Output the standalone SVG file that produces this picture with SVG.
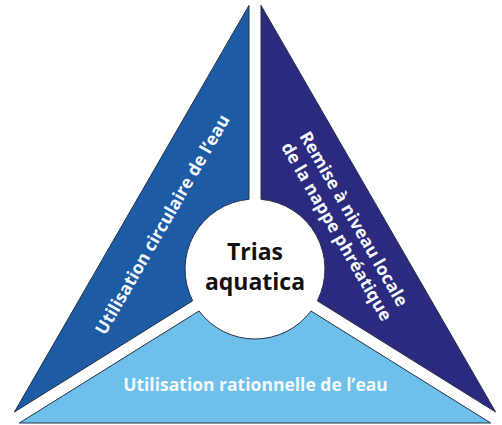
<svg xmlns="http://www.w3.org/2000/svg" width="502" height="425" viewBox="0 0 502 425">
  <style>
    .piece { stroke: #24324a; stroke-width: 1; stroke-linejoin: miter; }
    .lbl { font-family: "Open Sans", "Noto Sans", "Liberation Sans", sans-serif; font-weight: 700; fill: #f3f9fd; font-size: 17.5px; text-anchor: middle; }
    .center { font-family: "Open Sans", "Noto Sans", "Liberation Sans", sans-serif; font-weight: 700; fill: #111111; font-size: 23px; text-anchor: middle; }
  </style>
  <rect width="502" height="425" fill="#ffffff"/>
  <g id="left-piece">
    <path class="piece" fill="#1d5ba5" d="M249 5.4 L249 199.3 A70 70 0 0 0 192.65 300.8 L14.4 412 Z"/>
    <text class="lbl" transform="translate(162.5 224.5) rotate(-60)" y="6">Utilisation circulaire de l’eau</text>
  </g>
  <g id="right-piece">
    <path class="piece" fill="#2b2a7e" d="M261 5.4 L261 199.3 A70 70 0 0 1 317.35 300.8 L495.6 412 Z"/>
    <text class="lbl" transform="translate(345.75 226.25) rotate(60)">
      <tspan x="0" y="-4.6">Remise à niveau locale</tspan>
      <tspan x="0" y="16.6">de la nappe phréatique</tspan>
    </text>
  </g>
  <g id="bottom-piece">
    <path class="piece" fill="#6ec0ea" d="M19.3 423 L199 311 A70 70 0 0 0 311 311 L490.7 423 Z"/>
    <text class="lbl" x="255.5" y="391">Utilisation rationnelle de l’eau</text>
  </g>
  <g id="center">
    <text class="center" x="255" y="260">Trias</text>
    <text class="center" x="255" y="290">aquatica</text>
  </g>
  <g id="connectors"/>
</svg>
